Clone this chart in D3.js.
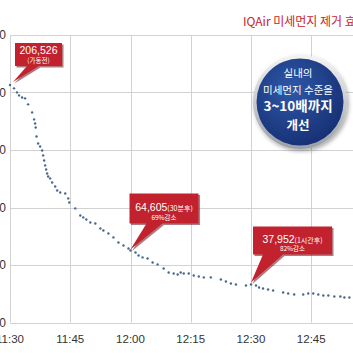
<!DOCTYPE html>
<html><head><meta charset="utf-8">
<script src="https://cdn.jsdelivr.net/npm/d3@7"></script>
<style>html,body{margin:0;padding:0;background:#fff;overflow:hidden}svg{display:block}</style>
</head><body>
<svg id="c" width="353" height="353"></svg>
<script>
// ---- data ----
const xTickLabels = ["11:30","11:45","12:00","12:15","12:30","12:45","13:00"];
const xTickMinutes = [0,15,30,45,60,75,90];
const yTicks = [0,50000,100000,150000,200000,250000];
const minutes = [0,1,1.75,2.25,3,3.75,4.5,5.5,6,6.25,6.4,6.6,7,7.5,8,8.25,8.5,8.75,9,9.25,9.5,10,10.5,11.25,11.75,12.5,13.75,14.5,14.75,16.25,17.5,18.25,19,20,21.25,22.5,23.25,24.5,25.75,27,28.25,29.5,30,31.25,32,33,34.25,35.5,36.75,38.25,39.5,40.75,41.75,42.5,43.25,44.5,45.75,47,48.25,50,52.5,53.75,55,56.25,58.75,60,61.25,62,63,64.25,65.5,68,69.25,70.75,73,74.25,75.5,76.75,78,79.25,80.75,82.25,83.25,84.5,85.75];
const values = [206526,203600,200100,197500,195700,194900,189700,182700,176600,173100,169600,161800,155700,153100,149600,145300,140900,136600,133100,129600,127000,125300,121800,118300,114800,113100,112200,107900,104400,99200,93100,91400,89600,87000,86100,81800,80000,77400,74000,69600,67000,64400,62600,60900,58300,56600,55700,52200,50500,47000,43500,42600,41800,43500,42600,42600,40900,40000,39200,39200,37400,35700,33900,33100,32200,33000,32200,30450,29600,28700,27800,26100,25200,24400,24400,25200,25200,24400,23500,23500,22600,22600,21750,21750,20900];
const title = "IQAir 미세먼지 제거 효과";
const badgeLines = ["실내의","미세먼지 수준을","3~10배까지","개선"];
const callouts = [
  {minute:0, main:"206,526", sub:"(가동전)"},
  {minute:30, main:"64,605", sub:"(30분후)", line2:"69%감소"},
  {minute:60, main:"37,952", sub:"(1시간후)", line2:"82%감소"}
];

// ---- chart ----
const svg = d3.select("#c");
const x = d3.scaleLinear().domain([0,90]).range([10,371.5]);
const y = d3.scaleLinear().domain([0,250000]).range([322.5,35]);
const font = "'Noto Sans CJK KR','Noto Sans',sans-serif";
const lat = "Liberation Sans, Arial, sans-serif";

// grid
const g = svg.append("g");
g.selectAll("line.h").data(yTicks).join("line")
  .attr("x1",x(0)).attr("x2",x(90)).attr("y1",d=>Math.round(y(d))+0.5).attr("y2",d=>Math.round(y(d))+0.5)
  .attr("stroke","#d2d2d2").attr("stroke-width",1);
g.selectAll("line.v").data(xTickMinutes).join("line")
  .attr("y1",y(250000)).attr("y2",y(0)).attr("x1",d=>Math.round(x(d))+0.5).attr("x2",d=>Math.round(x(d))+0.5)
  .attr("stroke","#d2d2d2").attr("stroke-width",1);

// axis labels
g.selectAll("text.yl").data(yTicks).join("text")
  .attr("x",6).attr("y",d=>y(d)+4).attr("text-anchor","end")
  .attr("font-family",lat).attr("font-size",12).attr("fill","#333")
  .text(d=>d3.format(",")(d));
g.selectAll("text.xl").data(xTickLabels).join("text")
  .attr("x",(d,i)=>x(xTickMinutes[i])).attr("y",343).attr("text-anchor","middle")
  .attr("font-family",lat).attr("font-size",11.5).attr("fill","#333")
  .text(d=>d);

// points
svg.append("g").selectAll("circle").data(minutes).join("circle")
  .attr("cx",d=>x(d)).attr("cy",(d,i)=>y(values[i])).attr("r",1.2)
  .attr("fill","#46688c");

// title
svg.append("text").attr("x",243).attr("y",26).attr("font-family",font).attr("font-size",12)
  .attr("fill","#c8242b").text(title);

// badge
const defs = svg.append("defs");
const rg = defs.append("radialGradient").attr("id","bg").attr("cx","40%").attr("cy","35%").attr("r","70%");
rg.append("stop").attr("offset","0%").attr("stop-color","#2f58a8");
rg.append("stop").attr("offset","100%").attr("stop-color","#162f73");
const ring = defs.append("linearGradient").attr("id","ring").attr("x1","0").attr("y1","0").attr("x2","0").attr("y2","1");
ring.append("stop").attr("offset","0%").attr("stop-color","#f4f4f4");
ring.append("stop").attr("offset","100%").attr("stop-color","#9a9fa8");
const f = defs.append("filter").attr("id","sh").attr("x","-30%").attr("y","-30%").attr("width","160%").attr("height","160%");
f.append("feDropShadow").attr("dx",1.5).attr("dy",2).attr("stdDeviation",2).attr("flood-color","#000").attr("flood-opacity",0.35);
const bx=300, by=102;
svg.append("circle").attr("cx",bx).attr("cy",by).attr("r",47).attr("fill","url(#ring)").attr("filter","url(#sh)");
svg.append("circle").attr("cx",bx).attr("cy",by).attr("r",43.5).attr("fill","url(#bg)");
const bsizes=[10.5,10.5,13.5,12.5], bys=[77,93.5,111,130], bw=[400,400,700,700];
svg.append("g").selectAll("text").data(badgeLines).join("text")
  .attr("x",bx-2).attr("y",(d,i)=>bys[i]).attr("text-anchor","middle")
  .attr("font-family",font).attr("font-size",(d,i)=>bsizes[i]).attr("font-weight",(d,i)=>bw[i])
  .attr("fill","#fff").text(d=>d);

// callouts (layout: box offset from anchor point)
const boxLayout = [
  {dx:5, dy:-42, w:47, h:23, t0:12, t1:24, tipdx:3, tipdy:-3},
  {dx:-1, dy:-57, w:69, h:30, t0:17, t1:33, tipdx:0, tipdy:-1},
  {dx:2, dy:-58, w:79, h:28, t0:10, t1:30, tipdx:0, tipdy:-2}
];
const cg = svg.append("g");
callouts.forEach((c,i)=>{
  const L = boxLayout[i];
  const idx = minutes.indexOf(c.minute);
  const px = x(c.minute), py = y(values[idx]);
  const tx = px+L.tipdx, ty = py+L.tipdy;
  const bx0 = px+L.dx, by0 = py+L.dy, bw0=L.w, bh=L.h;
  const path = `M${bx0},${by0} H${bx0+bw0} V${by0+bh} H${bx0+L.t1} L${tx},${ty} L${bx0+L.t0},${by0+bh} H${bx0} Z`;
  cg.append("path").attr("d",path).attr("transform","translate(1.5,1.5)").attr("fill","#6b1117").attr("opacity",0.55);
  cg.append("path").attr("d",path).attr("fill","#c1222d");
  const cx = bx0+bw0/2;
  if(i===0){
    cg.append("text").attr("x",cx).attr("y",by0+11).attr("text-anchor","middle")
      .attr("font-family",lat).attr("font-size",10.5).attr("fill","#fff").text(c.main);
    cg.append("text").attr("x",cx).attr("y",by0+20).attr("text-anchor","middle")
      .attr("font-family",font).attr("font-size",6.5).attr("fill","#fff").text(c.sub);
  } else {
    const t = cg.append("text").attr("x",cx).attr("y",by0+(i===1?17:16)).attr("text-anchor","middle")
      .attr("font-family",lat).attr("fill","#fff");
    t.append("tspan").attr("font-size",10.5).text(c.main);
    t.append("tspan").attr("font-size",7).attr("font-family",font).text(c.sub);
    cg.append("text").attr("x",cx).attr("y",by0+(i===1?26:24.5)).attr("text-anchor","middle")
      .attr("font-family",font).attr("font-size",6.5).attr("fill","#fff").text(c.line2);
  }
});
</script>
</body></html>
